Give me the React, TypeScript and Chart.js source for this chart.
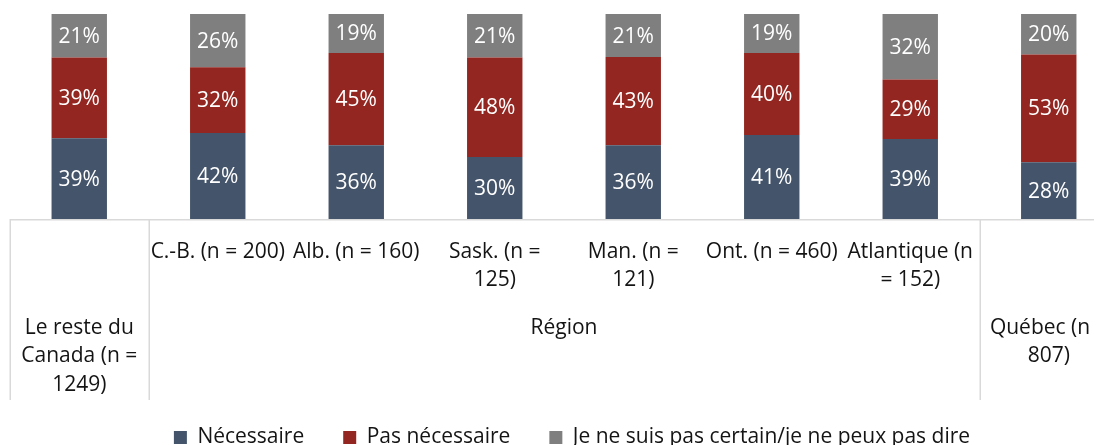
import React, { useEffect, useRef } from 'react';
import { Chart, registerables } from 'chart.js';

Chart.register(...registerables);

// ---- data ----
const categories = [
  'Le reste du Canada (n = 1249)',
  'C.-B. (n = 200)',
  'Alb. (n = 160)',
  'Sask. (n = 125)',
  'Man. (n = 121)',
  'Ont. (n = 460)',
  'Atlantique (n = 152)',
  'Québec (n = 807)',
];
const necessaire = [39, 42, 36, 30, 36, 41, 39, 28];
const pasNecessaire = [39, 32, 45, 48, 43, 40, 29, 53];
const incertain = [21, 26, 19, 21, 21, 19, 32, 20];
const seriesNames = ['Nécessaire', 'Pas nécessaire', 'Je ne suis pas certain/je ne peux pas dire'];
const seriesColors = ['#44546A', '#932620', '#7F7F7F'];

// inner (first) row of the category axis, already wrapped as in the picture
const innerTickLabels: string[][] = [
  [],
  ['C.-B. (n = 200)'],
  ['Alb. (n = 160)'],
  ['Sask. (n =', '125)'],
  ['Man. (n =', '121)'],
  ['Ont. (n = 460)'],
  ['Atlantique (n', '= 152)'],
  [],
];
// outer (second) row of the category axis
const groupLabels: string[][] = [['Le reste du', 'Canada (n =', '1249)'], ['Région'], ['Québec (n =', '807)']];
const groupFrom = [0, 1, 7];
const groupTo = [0, 6, 7];

const FONT = "'Open Sans', sans-serif";
const FS = 21;
const TEXT = '#141414';
const LINE = '#D9D9D9';

const rawSeries = [necessaire, pasNecessaire, incertain];
const totals = categories.map((_, i) => rawSeries.reduce((s, arr) => s + arr[i], 0));

const multiAxisPlugin = {
  id: 'multiAxis',
  afterLayout(chart: any) {
    const lg = chart.legend;
    if (lg) {
      lg.left += 8;
      lg.right += 8;
    }
  },
  afterDraw(chart: any) {
    const { ctx, chartArea, scales } = chart;
    const x = scales.x;
    const n = categories.length;
    const half = (x.getPixelForValue(1) - x.getPixelForValue(0)) / 2;
    const edge = (i: number) => (i < n ? x.getPixelForValue(i) - half : x.getPixelForValue(n - 1) + half);
    const b = chartArea.bottom;

    ctx.save();
    // axis line
    ctx.strokeStyle = LINE;
    ctx.lineWidth = 1.5;
    ctx.beginPath();
    ctx.moveTo(edge(0), b + 0.75);
    ctx.lineTo(edge(n) + 2, b + 0.75);
    ctx.stroke();
    // group separators
    const seps = [edge(0), edge(1), edge(7), edge(8)];
    seps.forEach((sx) => {
      ctx.beginPath();
      ctx.moveTo(Math.round(sx) + 0.25, b);
      ctx.lineTo(Math.round(sx) + 0.25, b + 181);
      ctx.stroke();
    });

    ctx.fillStyle = TEXT;
    ctx.font = `${FS}px ${FONT}`;
    ctx.textAlign = 'center';
    ctx.textBaseline = 'middle';
    const lh = 28.5;
    innerTickLabels.forEach((lines, i) => {
      const cx = x.getPixelForValue(i);
      lines.forEach((t, k) => ctx.fillText(t, cx, b + 33 + k * lh));
    });
    groupLabels.forEach((lines, g) => {
      const cx = (edge(groupFrom[g]) + edge(groupTo[g] + 1)) / 2;
      lines.forEach((t, k) => ctx.fillText(t, cx, b + 109 + k * lh));
    });
    ctx.restore();
  },
};

const valueLabelPlugin = {
  id: 'valueLabels',
  afterDatasetsDraw(chart: any) {
    const { ctx } = chart;
    ctx.save();
    ctx.fillStyle = '#FFFFFF';
    ctx.font = `${FS}px ${FONT}`;
    ctx.textAlign = 'center';
    ctx.textBaseline = 'middle';
    chart.data.datasets.forEach((ds: any, di: number) => {
      const meta = chart.getDatasetMeta(di);
      meta.data.forEach((el: any, i: number) => {
        const v = rawSeries[di][i];
        const cy = (el.y + el.base) / 2;
        ctx.fillText(`${v}%`, el.x, cy + 1);
      });
    });
    ctx.restore();
  },
};

export default function App() {
  const ref = useRef<HTMLCanvasElement | null>(null);

  useEffect(() => {
    if (!ref.current) return;
    Chart.defaults.font.family = FONT;
    const chart = new Chart(ref.current, {
      type: 'bar',
      data: {
        labels: categories,
        datasets: rawSeries.map((arr, di) => ({
          label: seriesNames[di],
          data: arr.map((v, i) => (v / totals[i]) * 100),
          backgroundColor: seriesColors[di],
          borderWidth: 0,
          barPercentage: 0.4,
          categoryPercentage: 1,
        })),
      },
      options: {
        responsive: false,
        animation: false,
        layout: { padding: { top: 6, left: 2, right: 10, bottom: 0 } },
        plugins: {
          tooltip: { enabled: false },
          legend: {
            position: 'bottom',
            labels: {
              boxWidth: 13,
              boxHeight: 13,
              padding: 39,
              color: TEXT,
              font: { size: FS, family: FONT },
            },
          },
        },
        scales: {
          x: {
            stacked: true,
            ticks: { display: false },
            grid: { display: false },
            border: { display: false },
            afterFit: (scale: any) => {
              scale.height = 169;
            },
          },
          y: {
            stacked: true,
            display: false,
            min: 0,
            max: 100,
          },
        },
      },
      plugins: [multiAxisPlugin, valueLabelPlugin],
    });
    return () => chart.destroy();
  }, []);

  return (
    <div style={{ width: 1094, height: 437, overflow: 'hidden' }}>
      <canvas ref={ref} width={1120} height={450} style={{ display: 'block' }} />
    </div>
  );
}
